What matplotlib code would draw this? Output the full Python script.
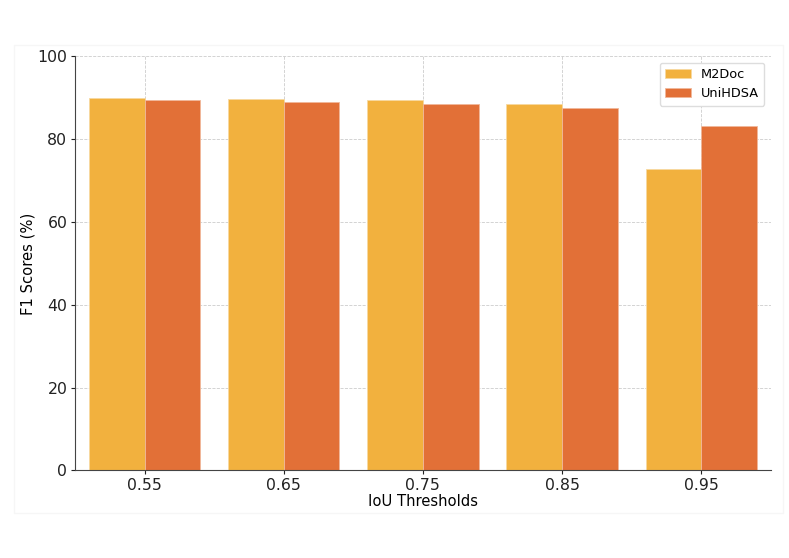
import matplotlib.pyplot as plt
import numpy as np
from matplotlib.patches import Rectangle

plt.rcParams["font.family"] = "DejaVu Sans"

# Data
thresholds = ["0.55", "0.65", "0.75", "0.85", "0.95"]
m2doc = [90.0, 89.7, 89.4, 88.5, 72.9]
unihdsa = [89.5, 88.9, 88.5, 87.6, 83.3]

fig = plt.figure(figsize=(7.89, 5.58), dpi=100)
ax = fig.add_axes([0.095, 0.157, 0.882, 0.742])

# faint frame around the plot area
fig.patches.append(Rectangle((0.018, 0.08), 0.975, 0.84, transform=fig.transFigure,
                             fill=False, edgecolor="#f6f6f6", linewidth=1.0))

x = np.arange(len(thresholds))
width = 0.4
ax.bar(x - width / 2, m2doc, width, color="#f2b13e", edgecolor="#f7d9a0",
       linewidth=0.6, label="M2Doc", zorder=2)
ax.bar(x + width / 2, unihdsa, width, color="#e27037", edgecolor="#f0b89a",
       linewidth=0.6, label="UniHDSA", zorder=2)

ax.set_xticks(x)
ax.set_xticklabels(thresholds, fontsize=11.3)
ax.set_xlim(-0.5, 4.5)
ax.set_ylim(0, 100)
ax.set_yticks([0, 20, 40, 60, 80, 100])
ax.tick_params(axis="y", labelsize=11.3)
ax.tick_params(length=3, pad=2.5)
ax.set_xlabel("IoU Thresholds", fontsize=10.6, labelpad=1)
ax.set_ylabel("F1 Scores (%)", fontsize=10.6)
ax.yaxis.set_label_coords(-0.057, 0.5)

ax.grid(True, linestyle="--", color="#cccccc", linewidth=0.6, zorder=0)
ax.set_axisbelow(True)
for s in ["top", "right"]:
    ax.spines[s].set_visible(False)
for s in ["left", "bottom"]:
    ax.spines[s].set_color("#444444")
ax.tick_params(colors="#222222")

ax.legend(loc="upper right", fontsize=9.3, framealpha=1, edgecolor="#dddddd")

plt.savefig("out.png", dpi=100)
